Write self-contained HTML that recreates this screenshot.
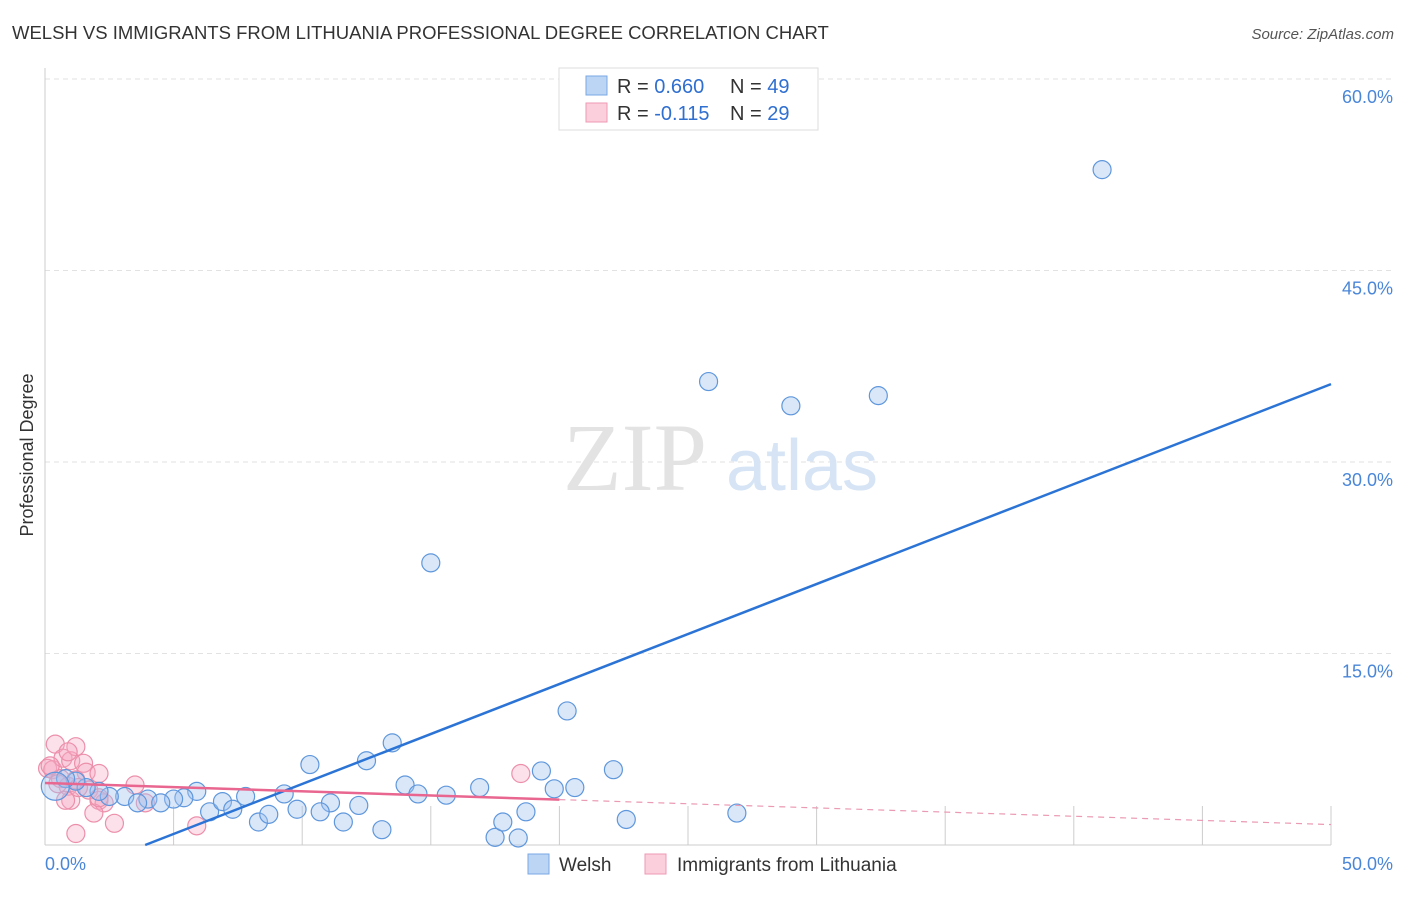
<!DOCTYPE html>
<html><head><meta charset="utf-8"><style>
body{margin:0;background:#fff;font-family:"Liberation Sans",sans-serif;}
svg text{font-family:"Liberation Sans",sans-serif;}
</style></head><body>
<svg id="chart" width="1406" height="892" xmlns="http://www.w3.org/2000/svg">
<text x="12" y="39" font-size="18.5" fill="#333">WELSH VS IMMIGRANTS FROM LITHUANIA PROFESSIONAL DEGREE CORRELATION CHART</text>
<text x="1394" y="39" font-size="15" fill="#555" font-style="italic" text-anchor="end">Source: ZipAtlas.com</text>
<g id="grid"></g>
<g>
<text x="635" y="490" font-size="96" fill="#e3e3e3" text-anchor="middle" style="font-family:'Liberation Serif',serif">ZIP</text>
<text x="802" y="490" font-size="72" fill="#d6e4f5" text-anchor="middle">atlas</text>
</g>
<text transform="translate(33,455) rotate(-90)" font-size="18" fill="#333" text-anchor="middle">Professional Degree</text>
<g id="points"></g>
<g id="lines"></g>
<g>
<rect x="559" y="68" width="259" height="62" fill="#fff" stroke="#ddd"/>
<rect x="586" y="76" width="21" height="19" fill="#bcd5f5" stroke="#7aa9e3"/>
<rect x="586" y="103" width="21" height="19" fill="#fbcfdc" stroke="#ef9ab4"/>
<text x="617" y="93" font-size="20" fill="#333">R = <tspan fill="#2f6fd0">0.660</tspan><tspan x="730">N = </tspan><tspan fill="#2f6fd0">49</tspan></text>
<text x="617" y="120" font-size="20" fill="#333">R = <tspan fill="#2f6fd0">-0.115</tspan><tspan x="730">N = </tspan><tspan fill="#2f6fd0">29</tspan></text>
</g>
<g>
<rect x="528" y="854" width="21" height="20" fill="#bcd5f5" stroke="#7aa9e3"/>
<text x="559" y="871" font-size="19" fill="#333">Welsh</text>
<rect x="645" y="854" width="21" height="20" fill="#fbcfdc" stroke="#ef9ab4"/>
<text x="677" y="871" font-size="19" fill="#333">Immigrants from Lithuania</text>
</g>
</svg>
<script>
const xTicks=[0,50];
const yTicks=[15,30,45,60];
const welshX=[41.1,25.8,29.0,32.4,15.0,20.3,13.5,10.3,12.5,19.3,22.1,14.0,14.5,15.6,16.9,19.8,20.6,9.3,11.1,12.2,5.9,5.4,5.0,4.0,3.1,2.5,2.1,1.6,1.2,0.8,0.4,3.6,4.5,6.4,6.9,7.3,7.8,8.3,8.7,9.8,10.7,11.6,13.1,17.5,17.8,18.4,18.7,22.6,26.9];
const welshY=[52.9,36.3,34.4,35.2,22.1,10.5,8.0,6.3,6.6,5.8,5.9,4.7,4.0,3.9,4.5,4.4,4.5,4.0,3.3,3.1,4.2,3.7,3.6,3.6,3.8,3.8,4.2,4.5,5.0,5.2,4.6,3.3,3.3,2.6,3.4,2.8,3.8,1.8,2.4,2.8,2.6,1.8,1.2,0.6,1.8,0.55,2.6,2.0,2.5];
const lithX=[0.4,0.1,0.3,0.7,1.0,1.2,0.9,1.5,1.6,2.1,0.6,0.9,1.2,1.7,2.1,1.0,2.3,1.9,2.7,3.5,3.9,1.2,5.9,18.5,1.3,0.2,0.8,0.5,2.1];
const lithY=[7.9,6.0,5.9,6.8,6.6,7.7,7.3,6.4,5.7,5.6,5.2,4.6,5.1,4.3,3.5,3.5,3.3,2.5,1.7,4.7,3.3,0.9,1.5,5.6,4.5,6.2,3.5,4.8,3.7];
const welshTrend=[-3.05,36.1];
const lithTrend=[4.86,1.6];
const NS="http://www.w3.org/2000/svg";
const X0=45,X1=1331,Y0=845,YT=79;
const sx=v=>X0+(X1-X0)*v/50;
const sy=v=>Y0-(Y0-YT)*v/60;
function el(t,a,p){const e=document.createElementNS(NS,t);for(const k in a)e.setAttribute(k,a[k]);p.appendChild(e);return e;}
const grid=document.getElementById('grid');
yTicks.forEach(t=>{
 const l=el('line',{x1:X0,x2:1394,y1:sy(t),y2:sy(t),stroke:'#e2e2e2','stroke-dasharray':'5,4'},grid);
 
 
 const tx=el('text',{x:1393,y:sy(t)+24,'font-size':18,fill:'#4a86d8','text-anchor':'end'},grid);
 tx.textContent=t.toFixed(1)+'%';
 
 
});
el('line',{x1:X0,x2:X0,y1:68,y2:Y0,stroke:'#ccc'},grid);
el('line',{x1:X0,x2:X1,y1:Y0,y2:Y0,stroke:'#ccc'},grid);
for(let i=1;i<=10;i++){const x=sx(i*5);el('line',{x1:x,x2:x,y1:Y0-39,y2:Y0,stroke:'#ccc'},grid);}
xTicks.forEach((t,i)=>{
 const tx=el('text',{x:i==0?45:1393,y:870,'font-size':18,fill:'#4a86d8','text-anchor':i==0?'start':'end'},grid);
 tx.textContent=t.toFixed(1)+'%';
 
 
});
const pts=document.getElementById('points');
lithX.forEach((x,i)=>{
 const c=el('circle',{cx:sx(x),cy:sy(lithY[i]),r:9,fill:'rgba(246,170,195,0.35)',stroke:'#ec8fab','stroke-width':1.2},pts);
 
 
});
welshX.forEach((x,i)=>{
 const c=el('circle',{cx:sx(x),cy:sy(welshY[i]),r:i==30?14:9,fill:'rgba(160,196,240,0.4)',stroke:'#5f97dc','stroke-width':1.2},pts);
 
 
});
const lines=document.getElementById('lines');
const x0w=-welshTrend[0]/(welshTrend[1]-welshTrend[0])*50;
const wl=el('line',{x1:sx(x0w),y1:sy(0),x2:sx(50),y2:sy(welshTrend[1]),stroke:'#2b74d6','stroke-width':2.5},lines);


const lv=x=>lithTrend[0]+(lithTrend[1]-lithTrend[0])*x/50;
const ll=el('line',{x1:sx(0),y1:sy(lv(0)),x2:sx(20),y2:sy(lv(20)),stroke:'#e8668f','stroke-width':2.5},lines);


const ld=el('line',{x1:sx(20),y1:sy(lv(20)),x2:sx(50),y2:sy(lv(50)),stroke:'#eb9ab3','stroke-width':1.2,'stroke-dasharray':'6,5'},lines);


</script>
</body></html>
